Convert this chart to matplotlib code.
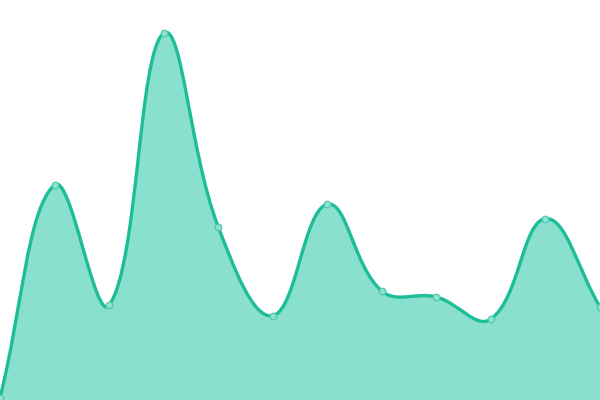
import numpy as np
import matplotlib
matplotlib.use("Agg")
import matplotlib.pyplot as plt
from matplotlib.path import Path
from matplotlib.patches import PathPatch

categories = list(range(12))
values = [2.5, 215, 94.7, 366.7, 173.3, 84.3, 195.7, 109, 103, 81, 181.3, 93.3]

LINE = "#1dbd98"
FILL = "#89e0ce"

fig = plt.figure(figsize=(6, 4), dpi=100)
ax = fig.add_axes([0, 0, 1, 1])
ax.set_xlim(0, len(categories) - 1)
ax.set_ylim(0, 400)
ax.axis("off")

# spline (Chart.js-like, tension 0.4) computed in pixel space
xs = np.array(categories, dtype=float)
ys = np.array(values, dtype=float)
sx = 600 / (len(xs) - 1)
px, py = xs * sx, ys
t = 0.4
n = len(xs)
cpl, cpr = [], []
for i in range(n):
    p = (px[max(i - 1, 0)], py[max(i - 1, 0)])
    c = (px[i], py[i])
    q = (px[min(i + 1, n - 1)], py[min(i + 1, n - 1)])
    d01 = np.hypot(c[0] - p[0], c[1] - p[1])
    d12 = np.hypot(q[0] - c[0], q[1] - c[1])
    s01 = d01 / (d01 + d12) if d01 + d12 else 0
    s12 = d12 / (d01 + d12) if d01 + d12 else 0
    fa, fb = t * s01, t * s12
    cpl.append((c[0] - fa * (q[0] - p[0]), c[1] - fa * (q[1] - p[1])))
    cpr.append((c[0] + fb * (q[0] - p[0]), c[1] + fb * (q[1] - p[1])))

verts = [(px[0] / sx, py[0])]
codes = [Path.MOVETO]
for i in range(n - 1):
    a = cpr[i]
    b = cpl[i + 1]
    verts += [(a[0] / sx, min(max(a[1], 0), 400)), (b[0] / sx, min(max(b[1], 0), 400)), (px[i + 1] / sx, py[i + 1])]
    codes += [Path.CURVE4] * 3

line_path = Path(verts, codes)
fill_verts = verts + [(xs[-1], 0), (xs[0], 0), verts[0]]
fill_codes = codes + [Path.LINETO, Path.LINETO, Path.CLOSEPOLY]
ax.add_patch(PathPatch(Path(fill_verts, fill_codes), facecolor=FILL, edgecolor="none", zorder=1))
ax.add_patch(PathPatch(line_path, facecolor="none", edgecolor=LINE, lw=2.4, zorder=2, clip_on=False))
ax.scatter(xs, ys, s=22, facecolor="#8fe3d0", edgecolor="#4fcaae", linewidths=0.9, zorder=3, clip_on=False)

fig.savefig("out.png", dpi=100)
